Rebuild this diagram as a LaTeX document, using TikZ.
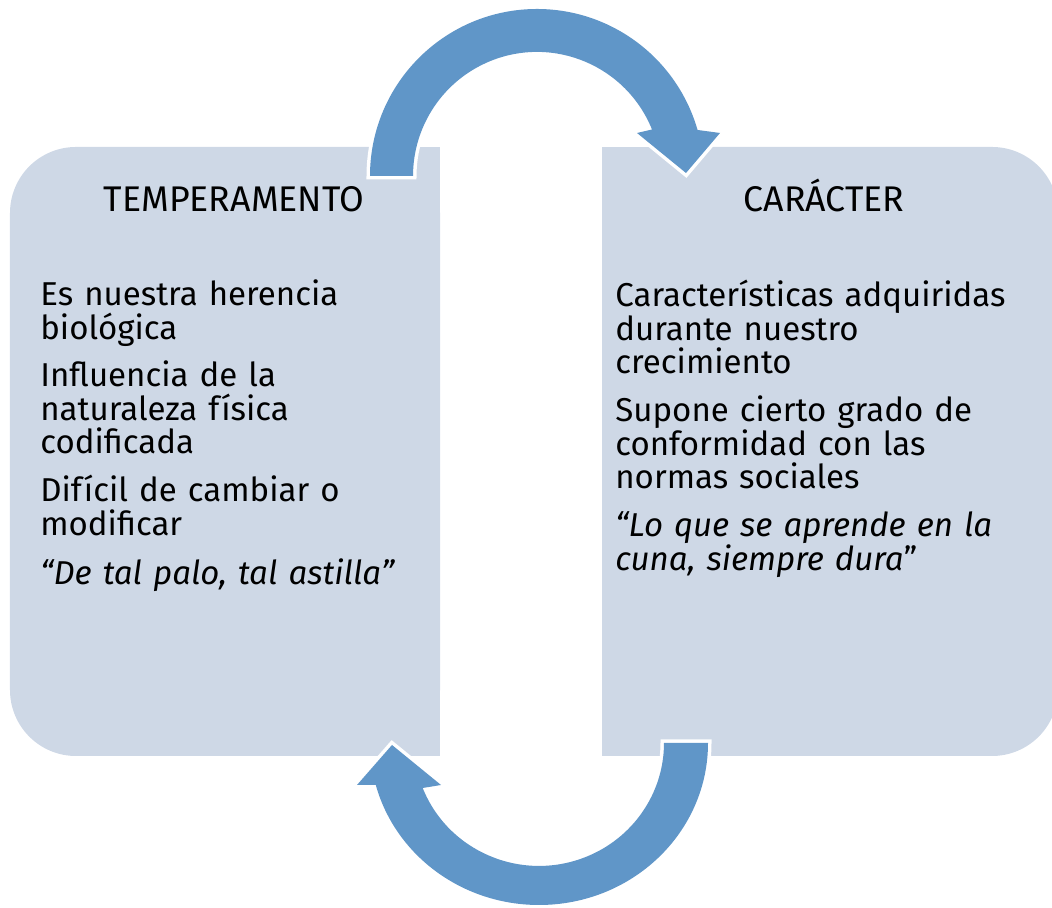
\documentclass[tikz,border=0pt]{standalone}
\usepackage{fontspec}
\setmainfont{Fira Sans}
\usetikzlibrary{positioning}
\definecolor{boxgrey}{HTML}{CED8E6}
\definecolor{arrowblue}{HTML}{6096C8}

\begin{document}
\begin{tikzpicture}[
	x=0.2mm, y=0.2mm,
	panel/.style={fill=boxgrey, inner sep=0pt, outer sep=0pt, minimum height=121.8mm},
	title/.style={font=\fontsize{20.3}{24}\selectfont, anchor=base, inner sep=0pt},
	para/.style={font=\fontsize{18.8}{18.8}\selectfont, text width=90mm, align=left, anchor=base west, inner sep=0pt},
	bigarrow/.style={fill=arrowblue, preaction={draw=white, line width=1.4mm}}
	]
	\useasboundingbox (0,0) rectangle (1052,908);
	\clip (0,0) rectangle (1052,908);
	
	% Boxes
	\node[panel, rounded corners=13.2mm, minimum width=86mm] (tempbox) at (225,456.5) {};
	\fill[boxgrey] (tempbox.north) rectangle (tempbox.south east);
	\node[panel, rounded corners=13.2mm, minimum width=91.2mm] (caracbox) at (830,456.5) {};
	\fill[boxgrey] (caracbox.north west) rectangle (caracbox.south);
	
	% Titles
	\node[title] (temptitle) at (234,696) {TEMPERAMENTO};
	\node[title] (caractitle) at (824,696) {CARÁCTER};
	
	% Left side text
	\node[para] (herencia) at (40,602) {Es nuestra herencia\\biológica};
	\node[para] (influencia) at (40,521) {Influencia de la\\naturaleza física\\codificada};
	\node[para] (dificil) at (40,406) {Difícil de cambiar o\\modificar};
	\node[para, font=\fontsize{18.8}{18.8}\selectfont\itshape] (palo) at (40,323) {“De tal palo, tal astilla”};
	
	% Right side text
	\node[para] (adquiridas) at (615,601) {Características adquiridas\\durante nuestro\\crecimiento};
	\node[para] (normas) at (615,486) {Supone cierto grado de\\conformidad con las\\normas sociales};
	\node[para, font=\fontsize{18.8}{18.8}\selectfont\itshape] (cuna) at (615,371) {“Lo que se aprende en la\\cuna, siempre dura\upshape”};
	
	% Arrow on top, left to right
	\fill[bigarrow] (370,732) arc[start angle=180, end angle=16, radius=167]
		-- (720,775) -- (686,735) -- (637,775) -- (652,778.5)
		arc[start angle=22, end angle=180, radius=124] -- cycle;
	
	% Arrow below, right to left
	\fill[bigarrow] (708,165) arc[start angle=0, end angle=-165, x radius=169, y radius=162]
		-- (357,123) -- (392,163) -- (441,123) -- (422.7,120)
		arc[start angle=-158.5, end angle=0, x radius=125, y radius=123] -- cycle;
	
\end{tikzpicture}
\end{document}
